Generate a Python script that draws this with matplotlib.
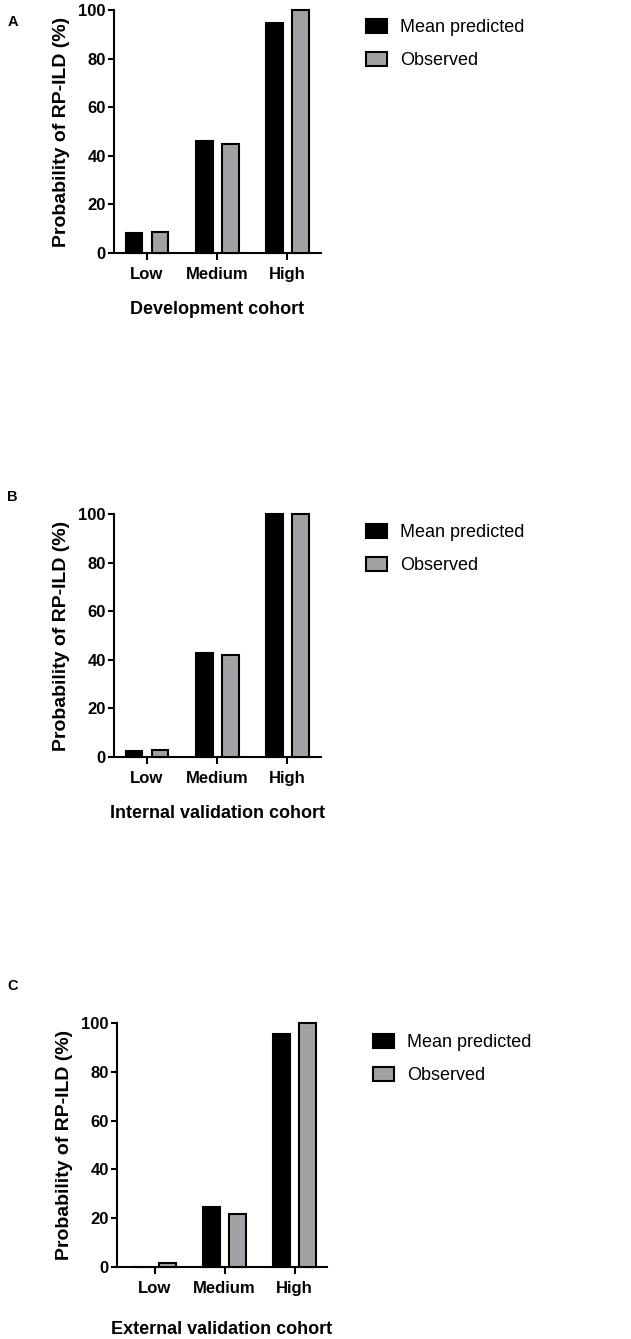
import numpy as np
import matplotlib
matplotlib.use('Agg')
import matplotlib.pyplot as plt

plt.rcParams['font.family'] = ['Liberation Sans', 'DejaVu Sans']

risk_groups = ['Low', 'Medium', 'High']
series_names = ['Mean predicted', 'Observed']

dev_pred = [8.3, 46.1, 94.8]
dev_obs = [8.7, 44.9, 100]
int_pred = [2.3, 42.9, 100]
int_obs = [2.9, 42.1, 100]
ext_pred = [0, 24.6, 95.6]
ext_obs = [1.5, 21.7, 100]

cohort_labels = ['Development cohort', 'Internal validation cohort', 'External validation cohort']
panel_letters = ['A', 'B', 'C']

W, H = 631, 1339
fig = plt.figure(figsize=(W / 100, H / 100), dpi=100)


def px_axes(left, right, top, bottom):
    # pixel box -> figure fraction
    return fig.add_axes([left / W, 1 - bottom / H, (right - left) / W, (bottom - top) / H])


def draw_panel(ax, pred, obs, xlabel, xlim, leg_xy, xlabelpad):
    x = np.arange(len(risk_groups))
    bw = 0.24
    ax.bar(x - 0.185, pred, bw, color='black', edgecolor='black', linewidth=1.5,
           label=series_names[0], clip_on=False, zorder=3)
    ax.bar(x + 0.185, obs, bw, color='#a2a2a6', edgecolor='black', linewidth=1.5,
           label=series_names[1], clip_on=False, zorder=3)
    ax.set_xlim(*xlim)
    ax.set_ylim(0, 100)
    ax.set_yticks(np.arange(0, 101, 20))
    ax.set_xticks(x)
    ax.set_xticklabels(risk_groups, fontsize=12, fontweight='bold')
    for lbl in ax.get_yticklabels():
        lbl.set_fontsize(12)
        lbl.set_fontweight('bold')
    for s in ['top', 'right']:
        ax.spines[s].set_visible(False)
    for s in ['left', 'bottom']:
        ax.spines[s].set_linewidth(1.5)
    ax.tick_params(axis='y', length=4, width=1.5, pad=2)
    ax.tick_params(axis='x', length=5, width=1.5, pad=5)
    ax.set_ylabel('Probability of RP-ILD (%)', fontsize=14, fontweight='bold', labelpad=6)
    ax.set_xlabel(xlabel, fontsize=13, fontweight='bold', labelpad=xlabelpad)
    ax.legend(loc='upper left', bbox_to_anchor=(leg_xy[0] / W, 1 - leg_xy[1] / H),
              bbox_transform=fig.transFigure, frameon=False, fontsize=13,
              handlelength=1.17, handleheight=0.78, handletextpad=0.72,
              labelspacing=0.9, borderpad=0, borderaxespad=0)


ax_a = px_axes(114, 321, 10, 253)
draw_panel(ax_a, dev_pred, dev_obs, cohort_labels[0], (-0.47, 2.48), (366, 19), 14)

ax_b = px_axes(114, 321, 514, 757)
draw_panel(ax_b, int_pred, int_obs, cohort_labels[1], (-0.47, 2.48), (366, 524), 14)

ax_c = px_axes(117, 327, 1023, 1267)
draw_panel(ax_c, ext_pred, ext_obs, cohort_labels[2], (-0.535, 2.46), (373, 1034), 18)

for letter, ypx in zip(panel_letters, [22, 497, 986]):
    fig.text(12.5 / W, 1 - ypx / H, letter, fontsize=10.5, fontweight='bold',
             ha='center', va='center')

fig.savefig('out.png', dpi=100)
